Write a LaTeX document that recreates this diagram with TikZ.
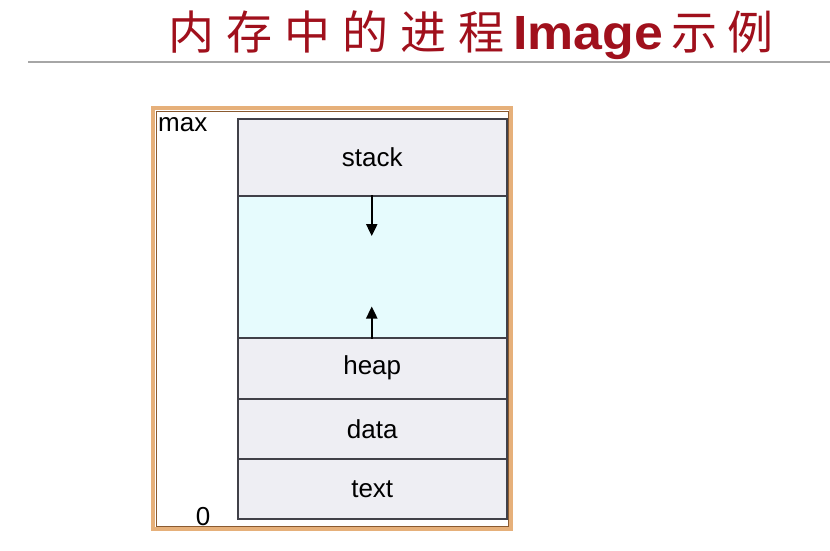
\documentclass[tikz,border=0pt]{standalone}
\usepackage{fontspec}
\setmainfont{Liberation Sans}
\newfontfamily\cjk{Noto Sans CJK SC}
\usetikzlibrary{arrows.meta}
\definecolor{titlered}{HTML}{A0101C}
\definecolor{frametan}{HTML}{E6B07A}
\definecolor{framebrown}{HTML}{8A5A30}
\definecolor{segfill}{HTML}{EEEEF3}
\definecolor{freefill}{HTML}{E6FBFD}
\definecolor{segline}{HTML}{404048}
\tikzset{
  seg/.style={draw=segline, line width=1.5pt, fill=segfill, minimum width=269pt, inner sep=0pt, anchor=north west, font=\fontsize{26}{30}\selectfont},
  lbl/.style={font=\fontsize{26}{30}\selectfont, inner sep=0pt},
  growarrow/.style={-{Triangle[length=12pt,width=11pt]}, line width=2.4pt}
}
\begin{document}
\begin{tikzpicture}[x=1pt,y=-1pt]
\useasboundingbox (0,0) rectangle (830,551);
\fill[white] (0,0) rectangle (830,551);
% title
\node[inner sep=0pt, anchor=base west, text=titlered, font=\fontsize{46}{50}\selectfont] (title) at (168,50)
  {{\cjk 内\hspace{12pt}存\hspace{12pt}中\hspace{12pt}的\hspace{12pt}进\hspace{12pt}程}\hspace{9pt}\scalebox{1.08}[1]{\fontsize{48}{50}\selectfont\textbf{Image}}\hspace{8pt}{\cjk 示\hspace{10pt}例}};
\draw[line width=2pt, gray!70] (28,62) coordinate (rl) -- (830,62) coordinate (rr);
% frame
\draw[frametan, line width=3.5pt] (153,108) rectangle (511,529);
\draw[framebrown, line width=0.7pt] (156,111) rectangle (508,526);
% segments
\node[seg, minimum height=77pt] (stack) at (237,118) {stack};
\node[seg, fill=freefill, minimum height=142pt] (free) at (237,195) {};
\node[seg, minimum height=61pt] (heap) at (237,337) {heap};
\node[seg, minimum height=60pt] (data) at (237,398) {data};
\node[seg, minimum height=60pt] (text) at (237,458) {text};
% arrows
\coordinate (downend) at ([xshift=-0.5pt,yshift=-41pt]free.north);
\coordinate (upend) at ([xshift=-0.5pt,yshift=32pt]free.south);
\draw[growarrow] ([xshift=-0.5pt]free.north) -- (downend);
\draw[growarrow] ([xshift=-0.5pt]free.south) -- (upend);
% labels
\node[lbl, anchor=base west] (max) at (158,131) {max};
\node[lbl, anchor=base] (zero) at (203,525) {0};
\end{tikzpicture}
\end{document}
